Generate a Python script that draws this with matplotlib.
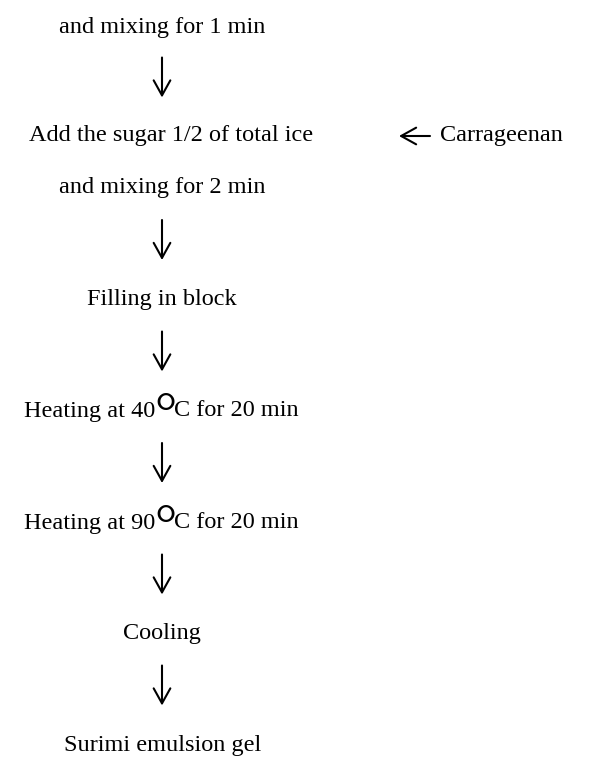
import matplotlib.pyplot as plt

# flow chart steps (text, vertical centre in px)
steps = ["and mixing for 1 min",
         "Add the sugar 1/2 of total ice",
         "and mixing for 2 min",
         "Filling in block",
         "Heating at 40°C for 20 min",
         "Heating at 90°C for 20 min",
         "Cooling",
         "Surimi emulsion gel"]
step_y = [27, 136, 188, 300, 411, 523, 634, 745]
step_x = [162, 171, 162, 162, 162, 162, 162, 163]
# arrows drawn between steps (from step index, to step index)
links = [(0, 1), (2, 3), (3, 4), (4, 5), (5, 6), (6, 7)]
side_label = "Carrageenan"

FS = 17.5

plt.rcParams['font.family'] = ['Liberation Serif', 'DejaVu Serif']

fig = plt.figure(figsize=(5.98, 7.62), dpi=100)
ax = fig.add_axes([0, 0, 1, 1])
ax.set_xlim(0, 598)
ax.set_ylim(762, 0)
ax.axis('off')
renderer = fig.canvas.get_renderer()


def width_px(t):
  return t.get_window_extent(renderer).width


def put_line(txt, x, y):
  if '°' not in txt:
    ax.text(x, y, txt, ha='center', va='center', fontsize=FS)
    return
  left, right = txt.split('°')
  # the degree sign is drawn big and raised, like in the original figure
  parts = [ax.text(0, y, left, ha='left', va='center', fontsize=FS),
           ax.text(0, y + 6, '°', ha='left', va='center', fontsize=40),
           ax.text(0, y, right, ha='left', va='center', fontsize=FS)]
  widths = [width_px(p) for p in parts]
  shift = [0, -1, -1]
  widths[1] -= 3
  pos = x - sum(widths) / 2.0
  for p, w, s in zip(parts, widths, shift):
    p.set_x(pos + s)
    pos += w


for txt, x, y in zip(steps, step_x, step_y):
  put_line(txt, x, y)

arrow = dict(arrowstyle='->, head_length=0.45, head_width=0.25', lw=1.5,
             color='black', mutation_scale=24, shrinkA=0, shrinkB=0)
for a, b in links:
  mid = (step_y[a] + step_y[b]) / 2.0
  ax.annotate('', xy=(162, mid + 16), xytext=(162, mid - 24), arrowprops=arrow)

ax.annotate('', xy=(399, step_y[1]), xytext=(430, step_y[1]), arrowprops=arrow)
ax.text(440, step_y[1], side_label, ha='left', va='center', fontsize=FS)

fig.savefig('out.png', dpi=100)
